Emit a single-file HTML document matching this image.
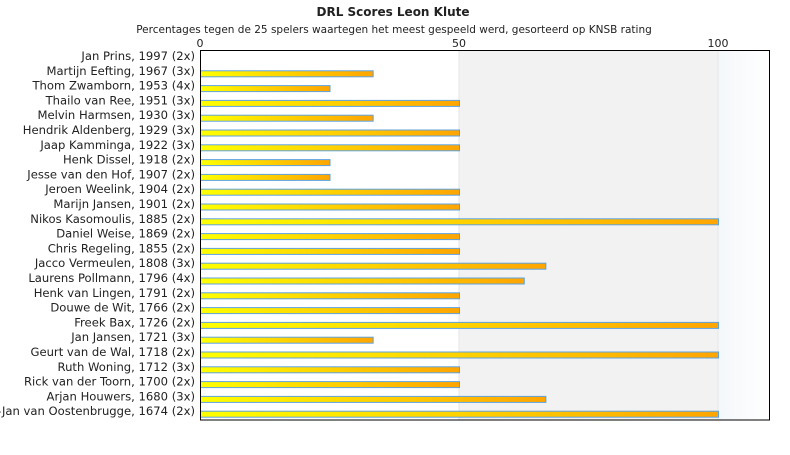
<!DOCTYPE html><html><head><style>body{margin:0;width:790px;height:450px;background:#fff;overflow:hidden}</style></head><body>
<svg width="790" height="450" xmlns="http://www.w3.org/2000/svg" font-family="DejaVu Sans, sans-serif">
<defs>
<linearGradient id="g" x1="0" x2="1"><stop offset="0" stop-color="#ffff00"/><stop offset="1" stop-color="#ffa500"/></linearGradient>
<linearGradient id="bg" x1="0" x2="1"><stop offset="0" stop-color="#f4f7fa"/><stop offset="1" stop-color="#ffffff"/></linearGradient>
</defs>
<text x="393" y="16" text-anchor="middle" font-size="12" font-weight="bold" fill="#222">DRL Scores Leon Klute</text>
<text x="394" y="33" text-anchor="middle" font-size="10.5" fill="#222">Percentages tegen de 25 spelers waartegen het meest gespeeld werd, gesorteerd op KNSB rating</text>
<text x="200" y="47" text-anchor="middle" font-size="11" fill="#222">0</text>
<text x="459" y="47" text-anchor="middle" font-size="11" fill="#222">50</text>
<text x="718" y="47" text-anchor="middle" font-size="11" fill="#222">100</text>
<rect x="459" y="50" width="259" height="370" fill="#f2f2f2"/>
<rect x="718" y="50" width="52" height="370" fill="url(#bg)"/>
<line x1="459" y1="50" x2="459" y2="420" stroke="#e6e6e6"/>
<line x1="718" y1="50" x2="718" y2="420" stroke="#e6e6e6"/>
<g id="bars" fill="url(#g)" stroke="#5fa2e0" stroke-width="1"></g>
<g id="labels" font-size="11.6" fill="#222" text-anchor="end"></g>
<rect x="200.5" y="50.5" width="569" height="369.5" fill="none" stroke="#000"/>
</svg>
<script>
var d=[["Jan Prins, 1997 (2x)",0],["Martijn Eefting, 1967 (3x)",33.33],["Thom Zwamborn, 1953 (4x)",25],["Thailo van Ree, 1951 (3x)",50],["Melvin Harmsen, 1930 (3x)",33.33],["Hendrik Aldenberg, 1929 (3x)",50],["Jaap Kamminga, 1922 (3x)",50],["Henk Dissel, 1918 (2x)",25],["Jesse van den Hof, 1907 (2x)",25],["Jeroen Weelink, 1904 (2x)",50],["Marijn Jansen, 1901 (2x)",50],["Nikos Kasomoulis, 1885 (2x)",100],["Daniel Weise, 1869 (2x)",50],["Chris Regeling, 1855 (2x)",50],["Jacco Vermeulen, 1808 (3x)",66.67],["Laurens Pollmann, 1796 (4x)",62.5],["Henk van Lingen, 1791 (2x)",50],["Douwe de Wit, 1766 (2x)",50],["Freek Bax, 1726 (2x)",100],["Jan Jansen, 1721 (3x)",33.33],["Geurt van de Wal, 1718 (2x)",100],["Ruth Woning, 1712 (3x)",50],["Rick van der Toorn, 1700 (2x)",50],["Arjan Houwers, 1680 (3x)",66.67],["Gert-Jan van Oostenbrugge, 1674 (2x)",100]];
var ns="http://www.w3.org/2000/svg",b=document.getElementById("bars"),l=document.getElementById("labels");
d.forEach(function(r,i){var t=50+14.8*i;
var tx=document.createElementNS(ns,"text");tx.setAttribute("x",195);tx.setAttribute("y",t+10);tx.textContent=r[0];l.appendChild(tx);
if(r[1]>0){var re=document.createElementNS(ns,"rect");re.setAttribute("x",200.5);re.setAttribute("y",t+6);re.setAttribute("width",r[1]*5.18);re.setAttribute("height",6);b.appendChild(re);}});
</script>
</body></html>
